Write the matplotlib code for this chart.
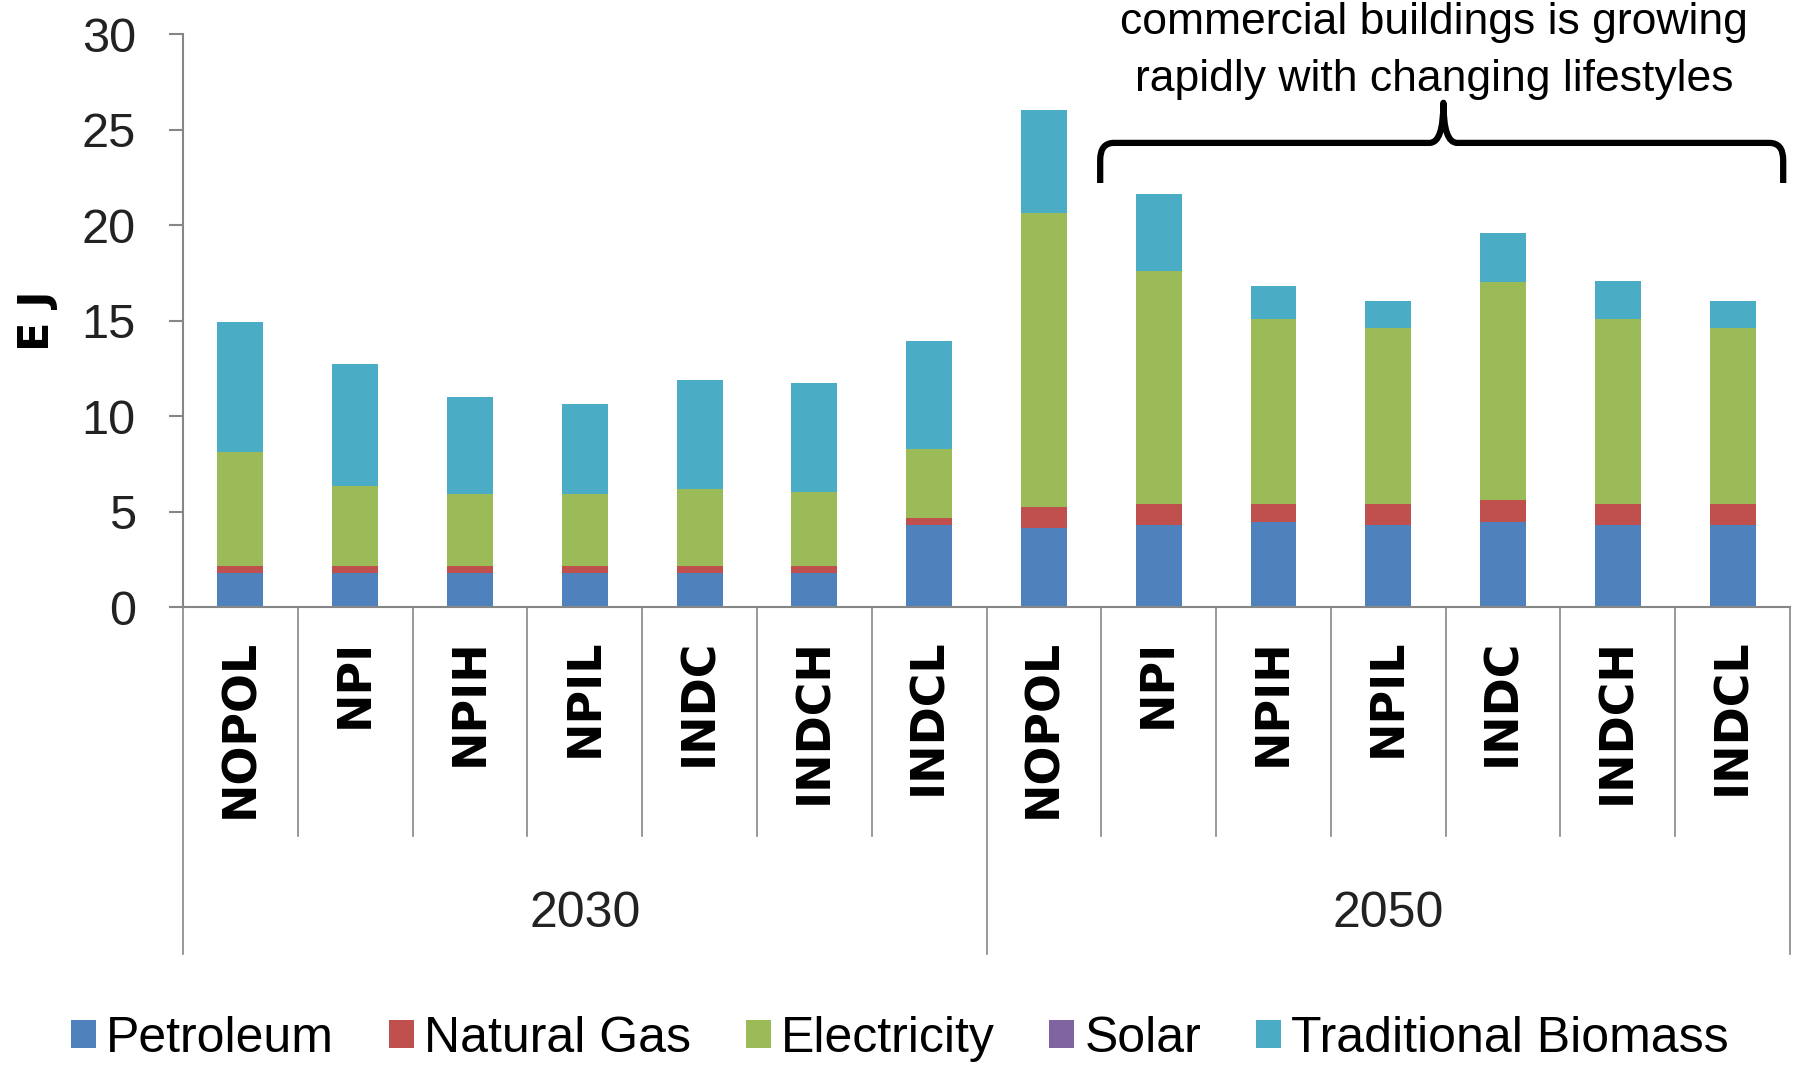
import matplotlib
matplotlib.use("Agg")
import matplotlib.pyplot as plt
import numpy as np
from matplotlib.patches import Patch, PathPatch
from matplotlib.path import Path
import matplotlib.transforms as mtransforms

# data (EJ)
scenarios = ["NOPOL", "NPI", "NPIH", "NPIL", "INDC", "INDCH", "INDCL"]
years = ["2030", "2050"]
categories = scenarios + scenarios

petroleum = [1.8, 1.8, 1.8, 1.8, 1.8, 1.8, 4.3,
             4.15, 4.3, 4.45, 4.3, 4.45, 4.3, 4.3]
natural_gas = [0.35, 0.35, 0.35, 0.35, 0.35, 0.35, 0.35,
               1.1, 1.1, 0.95, 1.1, 1.15, 1.1, 1.1]
electricity = [5.95, 4.2, 3.75, 3.75, 4.05, 3.85, 3.6,
               15.4, 12.2, 9.7, 9.2, 11.4, 9.7, 9.2]
solar = [0.0] * 14
totals = [14.9, 12.7, 11.0, 10.65, 11.9, 11.75, 13.95,
          26.0, 21.6, 16.8, 16.0, 19.6, 17.05, 16.0]
biomass = [t - p - g - e - s for t, p, g, e, s in
           zip(totals, petroleum, natural_gas, electricity, solar)]

series = ["Petroleum", "Natural Gas", "Electricity", "Solar", "Traditional Biomass"]
colors = ["#4F81BD", "#C0504D", "#9BBB59", "#8064A2", "#4BACC6"]
values = [petroleum, natural_gas, electricity, solar, biomass]

note_lines = ["commercial buildings is growing",
              "rapidly with changing lifestyles"]

sans = "Liberation Sans"
grey = "#868686"

fig = plt.figure(figsize=(17.96, 10.70), dpi=100)
ax = fig.add_axes([0.1019, 0.4327, 0.8948, 0.5355])

x = np.arange(len(categories))
bottom = np.zeros(len(categories))
for name, col, vals in zip(series, colors, values):
    ax.bar(x, vals, width=0.4, bottom=bottom, color=col, label=name)
    bottom += np.array(vals)

ax.set_xlim(-0.5, len(categories) - 0.5)
ax.set_ylim(0, 30)
ax.set_yticks(range(0, 31, 5))
ax.set_yticklabels([str(v) for v in range(0, 31, 5)], family=sans, fontsize=35, color="#222222")
ax.tick_params(axis="y", length=10, width=1.5, color=grey, pad=24)
ax.tick_params(axis="x", length=0)
ax.set_xticks([])
for s in ["top", "right"]:
    ax.spines[s].set_visible(False)
for s in ["left", "bottom"]:
    ax.spines[s].set_color(grey)
    ax.spines[s].set_linewidth(1.5)

# multi-level category axis
trans = mtransforms.blended_transform_factory(ax.transData, ax.transAxes)
for i in range(len(categories) + 1):
    edge = i - 0.5
    low = -0.606 if i % len(scenarios) == 0 else -0.40
    ax.plot([edge, edge], [0, low], transform=trans, color=grey, lw=1.2, clip_on=False)
for i, c in enumerate(categories):
    ax.text(i, -0.055, c, transform=trans, rotation=90, ha="center", va="top",
            family="DejaVu Sans", fontweight="bold", fontsize=33)
for j, yr in enumerate(years):
    mid = j * len(scenarios) + (len(scenarios) - 1) / 2
    ax.text(mid, -0.535, yr, transform=trans, ha="center", va="center",
            family=sans, fontsize=36, color="#222222")

fig.text(0.0206, 0.70, "E J", rotation=90, ha="center", va="center",
         family="DejaVu Sans", fontweight="bold", fontsize=31)

# brace annotation over the 2050 policy scenarios
x0, x1, xm = 7.49, 13.44, 10.48
y_end, y_bar, y_tip = 22.2, 24.3, 26.4
rx, ry = 0.12, 0.9
verts = [(x0, y_end), (x0, y_bar - ry), (x0, y_bar), (x0 + rx, y_bar),
         (xm - rx, y_bar), (xm, y_bar), (xm, y_tip),
         (xm, y_bar), (xm + rx, y_bar),
         (x1 - rx, y_bar), (x1, y_bar), (x1, y_bar - ry), (x1, y_end)]
codes = [Path.MOVETO, Path.LINETO, Path.CURVE3, Path.CURVE3,
         Path.LINETO, Path.CURVE3, Path.CURVE3,
         Path.CURVE3, Path.CURVE3,
         Path.LINETO, Path.CURVE3, Path.CURVE3, Path.LINETO]
ax.add_patch(PathPatch(Path(verts, codes), fill=False, lw=4.5, color="black",
                       clip_on=False, capstyle="butt", joinstyle="round"))
ax.text(10.4, 30.0, note_lines[0], ha="center", va="baseline",
        family=sans, fontsize=32, clip_on=False)
ax.text(10.4, 27.0, note_lines[1], ha="center", va="baseline",
        family=sans, fontsize=32, clip_on=False)

handles = [Patch(facecolor=c, label=n) for n, c in zip(series, colors)]
fig.legend(handles=handles, loc="center", bbox_to_anchor=(0.501, 0.029), ncol=5,
           frameon=False, prop={"family": sans, "size": 36},
           handlelength=0.5, handleheight=0.5, handletextpad=0.2,
           columnspacing=1.1, borderaxespad=0)

fig.savefig("out.png", dpi=100)
